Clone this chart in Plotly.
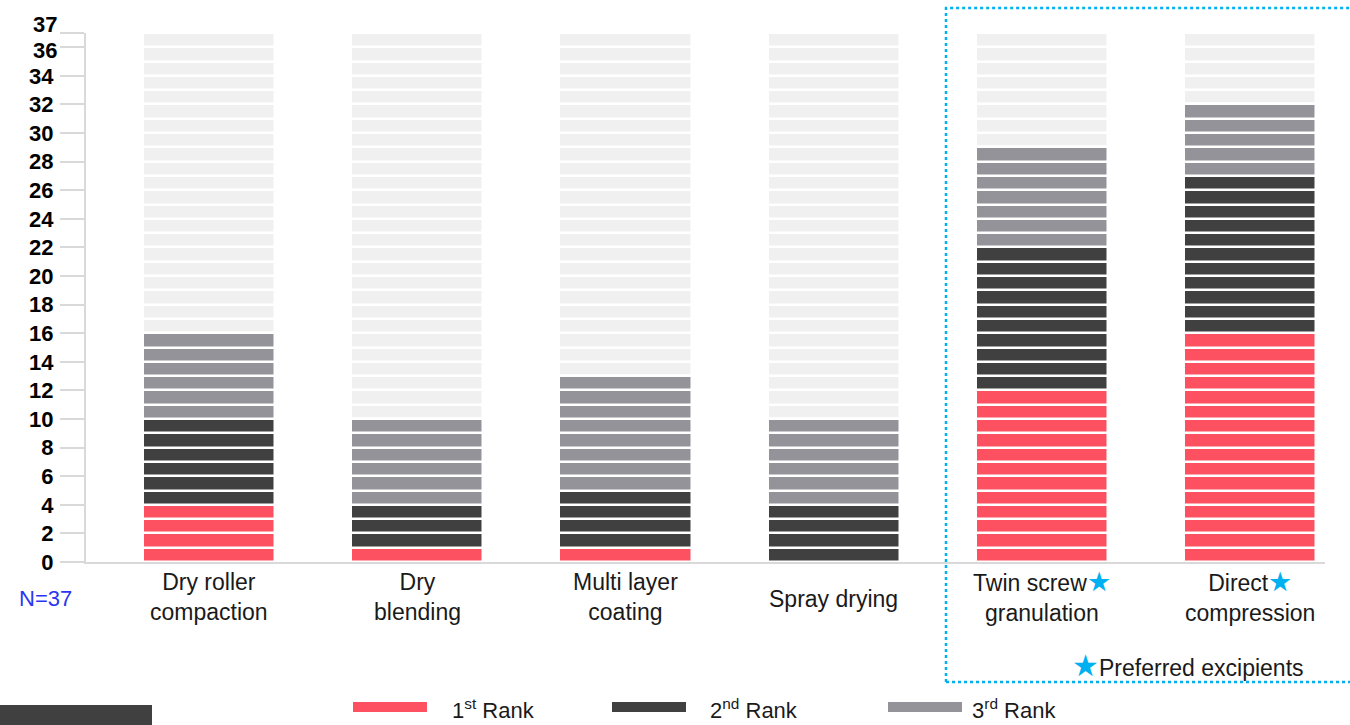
import plotly.graph_objects as go

# Survey: ranking of manufacturing processes (one block per respondent)
N_RESPONDENTS = 37
categories = [
    "Dry roller compaction",
    "Dry blending",
    "Multi layer coating",
    "Spray drying",
    "Twin screw granulation",
    "Direct compression",
]
STAR = "<span style='color:#00B0F0;font-size:27px'>★</span>"
label_text = [
    "Dry roller<br>compaction",
    "Dry<br>blending",
    "Multi layer<br>coating",
    "Spray drying",
    "Twin screw" + STAR + "<br>granulation",
    "Direct" + STAR + "<br>compression",
]
rank1 = [4, 1, 1, 0, 12, 16]
rank2 = [6, 3, 4, 4, 10, 11]
rank3 = [6, 6, 8, 6, 7, 5]
y_ticks = [0, 2, 4, 6, 8, 10, 12, 14, 16, 18, 20, 22, 24, 26, 28, 30, 32, 34, 36, 37]
# the two top labels sit close together, so they are drawn separately with a nudge
crowded_ticks = {37: 9, 36: -3}

COL_R1 = "#FD5061"
COL_R2 = "#404040"
COL_R3 = "#949399"
COL_NONE = "#F0F0F0"
FONT = "Liberation Sans, Arial, sans-serif"

# Size of the plotting area in pixels (used to place paper-referenced extras)
L, R, T, B = 86, 25, 33, 163
W, H = 1350, 725
PW, PH = W - L - R, H - T - B


def px(x):
    return (x - L) / PW


def py(y):
    return (H - B - y) / PH


def unit_blocks(starts, counts):
    xs, bases = [], []
    for cat, s, c in zip(categories, starts, counts):
        for k in range(s, s + c):
            xs.append(cat)
            bases.append(k)
    return xs, bases


start1 = [0] * len(categories)
start2 = rank1
start3 = [a + b for a, b in zip(rank1, rank2)]
start_rest = [a + b for a, b in zip(start3, rank3)]
rest = [N_RESPONDENTS - s for s in start_rest]

fig = go.Figure()
for name, starts, counts, col in [
    ("No rank", start_rest, rest, COL_NONE),
    ("1st Rank", start1, rank1, COL_R1),
    ("2nd Rank", start2, rank2, COL_R2),
    ("3rd Rank", start3, rank3, COL_R3),
]:
    xs, bases = unit_blocks(starts, counts)
    fig.add_trace(go.Bar(
        x=xs, y=[1] * len(xs), base=bases, name=name,
        marker=dict(color=col, line=dict(color="white", width=2.5)),
        width=0.634, showlegend=False, hoverinfo="skip",
    ))

annotations = []
for cat, txt in zip(categories, label_text):
    single = "<br>" not in txt
    starred = "★" in txt
    annotations.append(dict(
        x=cat, xref="x", y=0, yref="paper", yanchor="top",
        yshift=-22 if single else (-3 if starred else -5), text=txt, showarrow=False,
        font=dict(family=FONT, size=23, color="#1a1a1a"), align="center",
    ))

tick_font = dict(family=FONT, size=22, color="black", weight="bold")
for v, shift in crowded_ticks.items():
    annotations.append(dict(
        x=px(59), xref="paper", y=v, yref="y", xanchor="right", yanchor="middle",
        yshift=shift, text=str(v), showarrow=False, font=tick_font,
    ))

annotations.append(dict(
    x=px(45), xref="paper", y=py(598), yref="paper", xanchor="center", yanchor="middle",
    text="N=37", showarrow=False, font=dict(family=FONT, size=22, color="#2B36F5"),
))
annotations.append(dict(
    x=px(1306), xref="paper", y=py(665), yref="paper", xanchor="right", yanchor="middle",
    text="<span style='color:#00B0F0;font-size:30px'>★</span>Preferred excipients",
    showarrow=False, font=dict(family=FONT, size=23, color="#1a1a1a"),
))

shapes = [
    dict(type="rect", xref="paper", yref="paper", x0=px(946), x1=1.04, y0=py(682), y1=py(8),
         line=dict(color="#00B0F0", width=2.5, dash="dot"), fillcolor="rgba(0,0,0,0)"),
    dict(type="rect", xref="paper", yref="paper", x0=px(0), x1=px(152), y0=py(726), y1=py(705),
         line=dict(width=0), fillcolor="#404040"),
]

legend_items = [
    (353, 427, 450, "1<sup>st</sup> Rank", COL_R1),
    (612, 686, 708, "2<sup>nd</sup> Rank", COL_R2),
    (888, 962, 970, "3<sup>rd</sup> Rank", COL_R3),
]
for sx0, sx1, tx, txt, col in legend_items:
    shapes.append(dict(type="rect", xref="paper", yref="paper", x0=px(sx0), x1=px(sx1),
                       y0=py(712), y1=py(702), line=dict(width=0), fillcolor=col))
    annotations.append(dict(
        x=px(tx), xref="paper", y=py(709), yref="paper", xanchor="left", yanchor="middle",
        text=txt, showarrow=False, font=dict(family=FONT, size=22, color="#1a1a1a"),
    ))

fig.update_layout(
    width=W, height=H,
    margin=dict(l=L, r=R, t=T, b=B),
    plot_bgcolor="white", paper_bgcolor="white",
    barmode="overlay", bargap=0,
    annotations=annotations, shapes=shapes,
    showlegend=False,
)
fig.update_xaxes(
    type="category", categoryorder="array", categoryarray=categories,
    range=[-0.59, 5.358], showticklabels=False, ticks="",
    showline=True, linecolor="#D9D9D9", linewidth=2, showgrid=False, zeroline=False,
)
fig.update_yaxes(
    range=[0, N_RESPONDENTS], tickvals=y_ticks,
    ticktext=["" if v in crowded_ticks else str(v) for v in y_ticks],
    ticks="outside", ticklen=24, tickwidth=2, tickcolor="#D9D9D9", ticklabelstandoff=2,
    tickfont=tick_font,
    showline=True, linecolor="#D9D9D9", linewidth=2, showgrid=False, zeroline=False,
)

fig.write_html("out.html")
